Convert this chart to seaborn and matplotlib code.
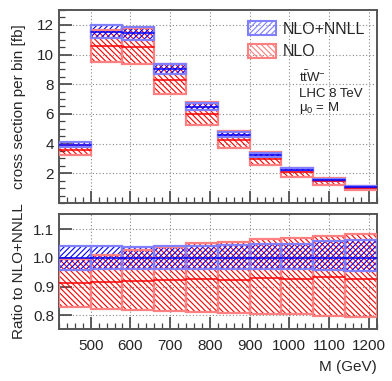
import seaborn as sns
import matplotlib.pyplot as plt
from matplotlib.ticker import MultipleLocator
from matplotlib.patches import Patch
import numpy as np
import pandas as pd

# bin edges in M (GeV)
bin_edges = [420, 500, 580, 660, 740, 820, 900, 980, 1060, 1140, 1220]

# NLO+NNLL central cross section per bin [fb]
xsec_nnll = [3.93, 11.55, 11.45, 9.00, 6.48, 4.60, 3.20, 2.22, 1.55, 1.08]

# bands as ratio to NLO+NNLL central value
nnll_up = [1.040, 1.040, 1.038, 1.040, 1.042, 1.045, 1.048, 1.050, 1.058, 1.062]
nnll_lo = [0.958, 0.960, 0.960, 0.962, 0.962, 0.960, 0.960, 0.960, 0.958, 0.955]
nlo_mid = [0.912, 0.917, 0.920, 0.922, 0.926, 0.923, 0.929, 0.926, 0.935, 0.927]
nlo_up = [0.995, 1.009, 1.028, 1.037, 1.051, 1.057, 1.065, 1.069, 1.078, 1.083]
nlo_lo = [0.828, 0.821, 0.818, 0.814, 0.813, 0.807, 0.803, 0.803, 0.799, 0.795]

sns.set_style("ticks")
plt.rcParams['font.family'] = ['Liberation Sans', 'DejaVu Sans']
plt.rcParams['hatch.linewidth'] = 0.8
plt.rcParams['mathtext.fontset'] = 'custom'
plt.rcParams['mathtext.rm'] = 'Liberation Sans'
plt.rcParams['mathtext.it'] = 'Liberation Sans'

RED_HATCH = '\\' * 6
BLUE_HATCH = '/' * 6

edges = np.array(bin_edges, dtype=float)
left = edges[:-1]
width = np.diff(edges)
c = np.array(xsec_nnll)

bands = {
    'NLO': (np.array(nlo_lo), np.array(nlo_up), np.array(nlo_mid), 'red', '#ff8080', RED_HATCH),
    'NLO+NNLL': (np.array(nnll_lo), np.array(nnll_up), np.ones(len(c)), 'blue', '#8080ff', BLUE_HATCH),
}

fig = plt.figure(figsize=(3.92, 3.81), dpi=100)
ax1 = fig.add_axes([0.1505, 0.4672, 0.81, 0.5066])
ax2 = fig.add_axes([0.1505, 0.1365, 0.81, 0.3018])


def draw(ax, scale):
    for name, (lo, up, mid, col, light, hatch) in bands.items():
        ax.bar(left, (up - lo) * scale, bottom=lo * scale, width=width, align='edge',
               facecolor='none', edgecolor=col, hatch=hatch, linewidth=0, zorder=3)
        ax.bar(left, (up - lo) * scale, bottom=lo * scale, width=width, align='edge',
               facecolor='none', edgecolor=light, linewidth=1.6, zorder=4)
        seg = pd.DataFrame({
            'x': np.concatenate([left, left + width]),
            'y': np.concatenate([mid * scale, mid * scale]),
            'bin': np.concatenate([np.arange(len(c)), np.arange(len(c))]),
        })
        sns.lineplot(data=seg, x='x', y='y', units='bin', estimator=None,
                     color=col, linewidth=1.1, ax=ax, zorder=5, legend=False)


draw(ax1, c)
draw(ax2, 1.0)

for ax in (ax1, ax2):
    ax.set_xlim(420, 1220)
    ax.xaxis.set_major_locator(MultipleLocator(100))
    ax.xaxis.set_minor_locator(MultipleLocator(20))
    ax.grid(True, which='major', color='#888888', linestyle=(0, (1, 2)), linewidth=0.8, zorder=0)
    ax.tick_params(which='major', direction='in', length=9, width=1.2, color='#444444',
                   labelsize=11, top=False, right=False)
    ax.tick_params(which='minor', direction='in', length=4, width=0.9, color='#444444')
    for s in ax.spines.values():
        s.set_color('#555555')
        s.set_linewidth(1.4)
    ax.set_xlabel('')
    ax.set_ylabel('')

ax1.set_ylim(0, 13)
ax1.set_yticks([2, 4, 6, 8, 10, 12])
ax1.yaxis.set_minor_locator(MultipleLocator(0.5))
ax1.tick_params(axis='x', labelbottom=False)
ax1.set_ylabel('cross section per bin [fb]', fontsize=11)

ax2.set_ylim(0.752, 1.153)
ax2.set_yticks([0.8, 0.9, 1.0, 1.1])
ax2.set_yticklabels(['0.8', '0.9', '1.0', '1.1'])
ax2.set_ylabel('Ratio to NLO+NNLL', fontsize=11)
ax2.set_xticks([500, 600, 700, 800, 900, 1000, 1100, 1200])
ax2.tick_params(axis='x', pad=7)
ax2.set_xlabel('M (GeV)', fontsize=11, loc='right', labelpad=5)

ax1.yaxis.set_label_coords(-0.105, 0.5)
ax2.yaxis.set_label_coords(-0.105, 0.5)

# legend
leg_handles = [
    Patch(facecolor='none', edgecolor='blue', hatch=BLUE_HATCH, linewidth=0),
    Patch(facecolor='none', edgecolor='red', hatch=RED_HATCH, linewidth=0),
]
leg = ax1.legend(leg_handles, ['NLO+NNLL', 'NLO'], loc='upper left',
                 bbox_to_anchor=(0.565, 0.99), frameon=False, fontsize=11.5,
                 handlelength=1.75, handleheight=0.95, labelspacing=0.45, handletextpad=0.4,
                 borderaxespad=0.2)
for h, col in zip(leg.legend_handles, ['#8080ff', '#ff8080']):
    h.set_linewidth(1.5)
    h.set_edgecolor(col)

txt = dict(transform=ax1.transAxes, fontsize=9.5, color='#222222', va='baseline')
ax1.text(0.757, 0.627, r'$\mathrm{t\bar{t}W^{-}}$', **txt)
ax1.text(0.757, 0.549, 'LHC 8 TeV', **txt)
ax1.text(0.757, 0.475, r'$\mathrm{\mu_{0}}$ = M', **txt)

fig.savefig('out.png', dpi=100)
